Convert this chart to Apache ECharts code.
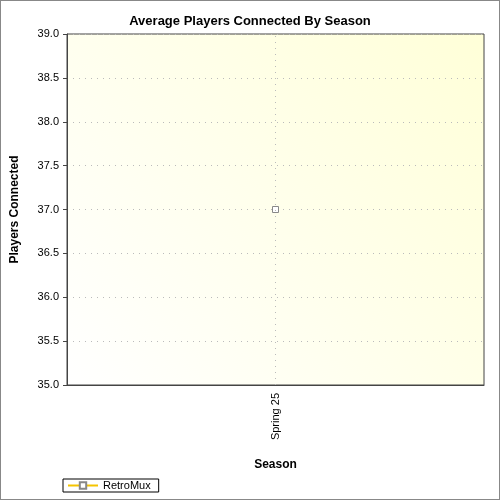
<!DOCTYPE html>
<html><head><meta charset="utf-8">
<script src="https://cdn.jsdelivr.net/npm/echarts@6/dist/echarts.min.js"></script>
<style>html,body{margin:0;padding:0}#c{width:500px;height:500px;box-sizing:border-box;border:1px solid #888}</style>
</head><body><div id="c"></div>
<script>
var seasons = ['Spring 25'];
var retroMux = [37.0];

var chart = echarts.init(document.getElementById('c'));
chart.setOption({
    backgroundColor: '#fff',
    animation: false,
    title: {
        text: 'Average Players Connected By Season',
        left: 'center', top: 9,
        textStyle: {fontFamily: 'Arial, Liberation Sans', fontSize: 13, fontWeight: 'bold', color: '#000'}
    },
    legend: {
        left: 62, bottom: 7,
        itemWidth: 30, itemHeight: 8,
        borderColor: '#000', borderWidth: 1, borderRadius: 0,
        padding: [1, 8, 1, 4],
        textStyle: {fontFamily: 'Arial, Liberation Sans', fontSize: 11, color: '#000'},
        data: ['RetroMux']
    },
    grid: {
        left: 65, right: 15, top: 33, bottom: 114,
        show: true, borderColor: '#444', borderWidth: 1,
        backgroundColor: new echarts.graphic.LinearGradient(0, 1, 1, 0, [
            {offset: 0, color: '#ffffff'}, {offset: 1, color: '#ffffd8'}
        ])
    },
    xAxis: {
        type: 'category', data: seasons,
        name: 'Season', nameLocation: 'middle', nameGap: 74,
        nameTextStyle: {fontFamily: 'Arial, Liberation Sans', fontSize: 12, fontWeight: 'bold', color: '#000'},
        axisLine: {lineStyle: {color: '#444'}},
        axisTick: {alignWithLabel: true, lineStyle: {color: '#444'}},
        axisLabel: {rotate: 90, color: '#000', fontFamily: 'Arial, Liberation Sans', fontSize: 11},
        splitLine: {show: false},
        boundaryGap: true
    },
    yAxis: {
        type: 'value', min: 35, max: 39, interval: 0.5,
        name: 'Players Connected', nameLocation: 'middle', nameGap: 46,
        nameTextStyle: {fontFamily: 'Arial, Liberation Sans', fontSize: 12, fontWeight: 'bold', color: '#000'},
        axisLine: {show: true, lineStyle: {color: '#444'}},
        axisTick: {show: true, length: 4, lineStyle: {color: '#444'}},
        axisLabel: {color: '#000', fontFamily: 'Arial, Liberation Sans', fontSize: 11,
            formatter: function (v) { return v.toFixed(1); }},
        splitLine: {lineStyle: {color: '#bbb', type: [1, 5]}}
    },
    series: [{
        name: 'RetroMux', type: 'line', data: retroMux,
        symbol: 'rect', symbolSize: 6,
        itemStyle: {color: '#fff', borderColor: '#888', borderWidth: 1},
        lineStyle: {color: '#f5c400', width: 4},
        markLine: {
            silent: true, symbol: 'none', label: {show: false},
            lineStyle: {color: '#bbb', type: [1, 5], width: 1},
            data: [{xAxis: seasons[0]}]
        }
    }]
});
</script></body></html>
